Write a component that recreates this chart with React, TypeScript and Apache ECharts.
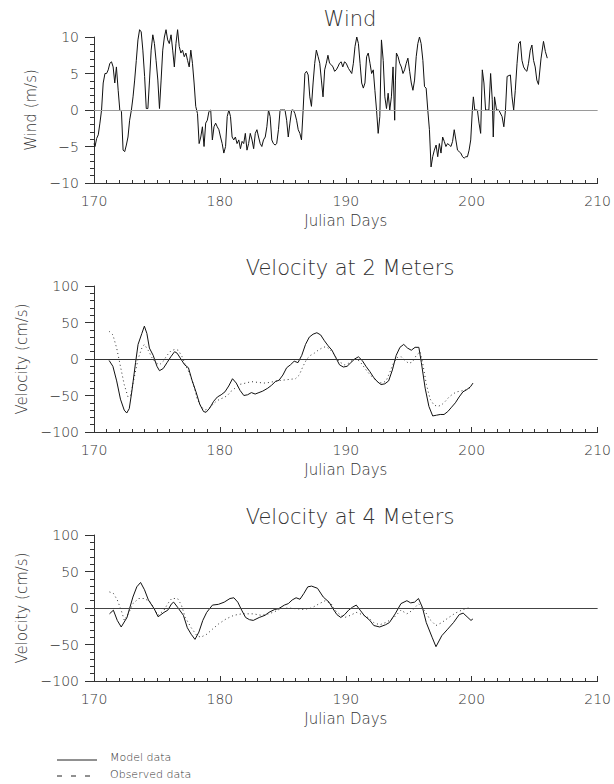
import React, { useEffect, useRef } from "react";
import * as echarts from "echarts";

const xTicks = { min: 170, max: 210, interval: 10 };
const titles = ["Wind", "Velocity at 2 Meters", "Velocity at 4 Meters"];
const yNames = ["Wind (m/s)", "Velocity (cm/s)", "Velocity (cm/s)"];
const yRanges = [
  { min: -10, max: 10, interval: 5 },
  { min: -100, max: 100, interval: 50 },
  { min: -100, max: 100, interval: 50 },
];
const legendLabels = ["Model data", "Observed data"];

const windSpeed: [number, number][] = [
  [170.0, -4.6], [170.08, -5.0], [170.21, -3.9], [170.34, -3.4], [170.47, -1.8], [170.6, 0], [170.73, 3.7], [170.87, 5.0], [171.0, 5.0], [171.13, 5.5], [171.26, 6.4], [171.39, 6.6], [171.52, 5.9], [171.65, 3.7], [171.78, 5.9], [171.92, 2.7], [172.05, 0], [172.18, -0.2], [172.31, -5.5], [172.44, -5.7], [172.57, -4.8], [172.7, -3.7], [172.83, -1.4], [172.97, 0], [173.1, 1.8], [173.23, 4.1], [173.36, 6.8], [173.49, 9.6], [173.62, 11.0], [173.75, 10.7], [173.88, 8.2], [174.02, 4.6], [174.15, 0.2], [174.28, 0.2], [174.41, 4.1], [174.54, 8.2], [174.67, 10.3], [174.8, 9.1], [174.93, 6.8], [175.07, 4.1], [175.2, 0.2], [175.33, 4.1], [175.46, 8.2], [175.59, 10.0], [175.72, 11.0], [175.85, 9.6], [175.98, 9.1], [176.12, 10.3], [176.25, 8.2], [176.38, 5.9], [176.51, 9.1], [176.64, 11.0], [176.77, 8.7], [176.9, 7.8], [177.03, 8.2], [177.17, 7.3], [177.3, 7.8], [177.43, 6.8], [177.56, 5.9], [177.69, 8.2], [177.82, 6.4], [177.95, 3.7], [178.08, 0.5], [178.22, -0.5], [178.35, -4.6], [178.48, -3.7], [178.61, -2.3], [178.74, -5.0], [178.87, -1.8], [179.0, -1.4], [179.13, -0.2], [179.27, 0], [179.4, -4.1], [179.53, -2.3], [179.66, -1.8], [179.79, -2.3], [179.92, -2.7], [180.05, -3.7], [180.18, -4.6], [180.31, -5.9], [180.45, -5.0], [180.58, -0.9], [180.71, 0], [180.84, -0.9], [180.97, -3.7], [181.1, -4.1], [181.23, -3.7], [181.36, -4.6], [181.5, -4.1], [181.63, -5.3], [181.76, -4.3], [181.89, -4.6], [182.02, -3.2], [182.15, -5.5], [182.28, -4.6], [182.41, -3.2], [182.55, -4.1], [182.68, -5.3], [182.81, -3.2], [182.94, -2.7], [183.07, -3.7], [183.2, -4.6], [183.33, -5.0], [183.46, -4.1], [183.6, -3.7], [183.73, -2.3], [183.86, 0], [183.99, -0.9], [184.12, -4.1], [184.25, -4.6], [184.38, -4.8], [184.51, -4.6], [184.65, -2.7], [184.78, 0], [184.91, 0], [185.04, 0], [185.17, 0], [185.3, -1.4], [185.43, -3.7], [185.56, -1.8], [185.7, 0], [185.83, 0], [185.96, -0.5], [186.09, -1.4], [186.22, -2.7], [186.35, -3.2], [186.48, -4.1], [186.61, 0], [186.75, 5.0], [186.88, 5.3], [187.01, 4.8], [187.14, 1.8], [187.27, 0.5], [187.4, 3.7], [187.53, 6.4], [187.66, 8.2], [187.8, 7.3], [187.93, 6.4], [188.06, 4.1], [188.19, 1.8], [188.32, 5.5], [188.45, 6.4], [188.58, 7.5], [188.71, 6.4], [188.85, 6.2], [188.98, 5.9], [189.11, 5.3], [189.24, 5.5], [189.37, 5.9], [189.5, 6.4], [189.63, 6.6], [189.76, 5.9], [189.9, 6.6], [190.03, 6.4],
  [190.21, 5.7], [190.47, 5.0], [190.6, 6.4], [190.73, 8.7], [190.87, 10.0], [191.0, 9.1], [191.13, 6.4], [191.26, 3.7], [191.39, 3.0], [191.52, 3.7], [191.65, 7.3], [191.78, 7.8], [191.92, 6.4], [192.05, 5.0], [192.18, 5.5], [192.31, 2.7], [192.44, 0], [192.57, -3.2], [192.7, -0.9], [192.83, 9.6], [192.97, 6.8], [193.1, 1.8], [193.23, 0.2], [193.36, 2.3], [193.49, 0], [193.62, 1.8], [193.75, 5.9], [193.88, -1.4], [193.94, 4.1], [194.02, 7.8], [194.15, 7.3], [194.28, 6.4], [194.41, 5.9], [194.54, 5.0], [194.67, 5.5], [194.8, 6.4], [194.93, 7.1], [195.07, 5.3], [195.2, 3.7], [195.33, 2.7], [195.46, 4.1], [195.59, 7.3], [195.72, 9.1], [195.85, 10.0], [195.98, 9.1], [196.12, 6.8], [196.25, 3.2], [196.38, 3.0], [196.51, 0], [196.64, -2.7], [196.77, -7.8], [196.9, -6.4], [197.03, -5.5], [197.17, -4.8], [197.3, -6.4], [197.43, -4.6], [197.56, -5.9], [197.69, -3.7], [197.82, -4.3], [197.95, -5.0], [198.08, -4.6], [198.22, -4.8], [198.35, -5.0], [198.48, -4.3], [198.61, -2.7], [198.74, -4.1], [198.87, -5.5], [199.0, -5.7], [199.13, -5.9], [199.27, -6.4], [199.4, -6.6], [199.53, -6.4], [199.66, -6.4], [199.79, -5.5], [199.92, -4.1], [200.05, 0], [200.13, 1.8], [200.24, 0], [200.45, 0], [200.58, -1.8], [200.71, -3.2], [200.84, 5.5], [200.97, 3.7], [201.1, 0], [201.23, 0], [201.36, 0], [201.5, 5.0], [201.63, 1.4], [201.71, -3.7], [201.81, 1.8], [201.97, 0], [202.15, 0], [202.41, -0.9], [202.55, -2.3], [202.68, 0], [202.81, 4.6], [203.07, 4.8], [203.2, 1.8], [203.33, 0], [203.46, 2.7], [203.6, 6.4], [203.73, 9.1], [203.86, 9.4], [203.99, 6.8], [204.12, 5.9], [204.25, 5.5], [204.38, 5.3], [204.51, 6.4], [204.65, 8.2], [204.78, 8.9], [204.91, 6.8], [205.04, 5.9], [205.17, 4.1], [205.3, 3.5], [205.5, 7.0], [205.7, 9.4], [205.85, 8.0], [206.0, 7.1],
];

const model2m: [number, number][] = [
  [171.2, -2], [171.5, -10], [171.8, -30], [172.1, -55], [172.4, -70], [172.6, -74], [172.8, -68], [173.0, -45], [173.3, -5], [173.5, 20], [173.8, 35], [174.0, 45], [174.2, 35], [174.4, 15], [174.7, 5], [175.0, -10], [175.2, -16], [175.5, -13], [175.8, -5], [176.1, 3], [176.4, 10], [176.6, 8], [176.9, 0], [177.2, -8], [177.5, -12], [177.8, -30], [178.1, -45], [178.4, -62], [178.7, -72], [178.9, -73], [179.2, -67], [179.5, -58], [179.8, -52], [180.1, -49], [180.4, -45], [180.7, -37], [181.0, -27], [181.3, -33], [181.6, -43], [181.9, -50], [182.2, -49], [182.5, -46], [182.8, -48], [183.1, -46], [183.4, -44], [183.8, -40], [184.1, -36], [184.4, -31], [184.7, -29], [185.0, -22], [185.3, -12], [185.6, -8], [185.9, -3], [186.2, -5], [186.5, 5], [186.8, 20], [187.1, 30], [187.4, 34], [187.7, 36], [188.0, 33], [188.3, 25], [188.6, 18], [188.9, 12], [189.2, 2], [189.5, -8], [189.8, -11], [190.1, -10], [190.4, -5], [190.7, 0], [191.0, 3], [191.3, -2], [191.6, -10], [191.9, -17], [192.2, -25], [192.5, -31], [192.8, -35], [193.1, -34], [193.4, -30], [193.7, -15], [194.0, 5], [194.3, 16], [194.6, 20], [194.9, 15], [195.2, 12], [195.5, 16], [195.8, 16], [196.0, -5], [196.3, -40], [196.6, -65], [196.9, -78], [197.2, -77], [197.5, -76], [197.8, -76], [198.1, -72], [198.4, -66], [198.7, -60], [199.0, -52], [199.3, -45], [199.6, -42], [199.9, -38], [200.1, -33],
];

const observed2m: [number, number][] = [
  [171.2, 38], [171.5, 33], [171.8, 15], [172.1, -10], [172.4, -35], [172.7, -52], [172.9, -50], [173.2, -25], [173.5, 0], [173.8, 15], [174.0, 20], [174.3, 12], [174.6, 2], [174.9, -5], [175.2, -8], [175.5, -3], [175.8, 5], [176.1, 11], [176.4, 13], [176.7, 12], [177.0, 3], [177.3, -10], [177.6, -20], [177.9, -35], [178.2, -55], [178.5, -65], [178.8, -70], [179.1, -68], [179.4, -63], [179.7, -58], [180.0, -55], [180.3, -53], [180.6, -50], [180.9, -44], [181.2, -40], [181.5, -35], [181.8, -34], [182.5, -31], [183.0, -32], [183.5, -33], [184.0, -32], [184.5, -30], [185.0, -29], [185.5, -28], [186.0, -27], [186.3, -22], [186.6, -10], [186.9, 0], [187.2, 5], [187.5, 8], [187.8, 12], [188.1, 15], [188.4, 17], [188.7, 14], [189.0, 8], [189.3, 0], [189.6, -5], [189.9, -8], [190.2, -6], [190.5, -2], [190.8, 0], [191.1, -3], [191.4, -10], [191.7, -17], [192.0, -23], [192.3, -28], [192.6, -32], [192.9, -33], [193.2, -30], [193.5, -18], [193.8, -5], [194.1, 2], [194.4, 3], [194.7, -2], [195.0, -6], [195.3, -4], [195.6, 5], [195.9, 10], [196.1, -5], [196.4, -35], [196.7, -55], [197.0, -63], [197.3, -65], [197.6, -63], [197.9, -58], [198.2, -52], [198.5, -48], [198.8, -45], [199.1, -44], [199.4, -43], [199.7, -41], [200.0, -38],
];

const model4m: [number, number][] = [
  [171.23, -8], [171.54, -3], [171.85, -17], [172.16, -26], [172.62, -13], [173.09, 15], [173.4, 29], [173.7, 35], [174.01, 25], [174.32, 11], [174.78, -1], [175.09, -12], [175.56, -6], [175.86, -3], [176.17, 6], [176.33, 8], [176.64, 1], [177.1, -10], [177.41, -27], [177.72, -36], [178.02, -43], [178.33, -33], [178.64, -17], [178.95, -6], [179.41, 4], [179.88, 5], [180.34, 8], [180.8, 13], [181.11, 14], [181.42, 8], [181.73, -3], [182.04, -13], [182.35, -16], [182.65, -17], [183.12, -13], [183.58, -10], [183.89, -6], [184.35, -2], [184.66, -1], [185.12, 4], [185.43, 6], [185.74, 11], [186.05, 14], [186.36, 12], [186.67, 20], [186.98, 29], [187.28, 30], [187.75, 27], [188.21, 15], [188.67, 8], [188.98, -1], [189.29, -9], [189.6, -13], [189.91, -9], [190.22, -3], [190.52, 1], [190.83, 4], [191.14, -3], [191.45, -10], [191.91, -17], [192.22, -24], [192.69, -26], [193.15, -23], [193.46, -20], [193.92, -8], [194.38, 6], [194.85, 10], [195.15, 7], [195.46, 8], [195.77, 13], [196.08, 1], [196.39, -20], [196.85, -40], [197.16, -53], [197.62, -38], [198.09, -29], [198.55, -20], [199.01, -9], [199.32, -7], [199.63, -12], [199.94, -17], [200.09, -15],
];

const observed4m: [number, number][] = [
  [171.23, 22], [171.54, 20], [171.85, 11], [172.16, -3], [172.41, -17], [172.78, -6], [173.09, 6], [173.55, 13], [174.01, 13], [174.48, 8], [174.78, -1], [175.09, -10], [175.56, -3], [175.86, 6], [176.17, 13], [176.64, 13], [176.94, 4], [177.25, -13], [177.72, -27], [178.18, -38], [178.49, -40], [178.95, -36], [179.41, -29], [179.88, -22], [180.49, -15], [181.11, -10], [181.73, -8], [182.65, -8], [183.27, -10], [183.89, -8], [184.35, -5], [184.81, -1], [185.43, 0], [186.05, -1], [186.67, -2], [187.28, 0], [187.9, 6], [188.36, 10], [188.83, 6], [189.14, -3], [189.6, -10], [189.91, -13], [190.37, -10], [190.83, -6], [191.3, -9], [191.76, -13], [192.22, -20], [192.69, -23], [193.15, -20], [193.77, -14], [194.38, -3], [194.85, -8], [195.31, -3], [195.77, 6], [196.23, -3], [196.7, -16], [197.16, -24], [197.62, -20], [198.09, -14], [198.7, -7], [199.32, -2], [199.94, 1],
];

const FONT = "DejaVu Sans";
const GRID_TOPS = [37, 286, 535];
const GRID_LEFT = 94;
const GRID_W = 507;
const GRID_H = 146;

export default function App() {
  const ref = useRef<HTMLDivElement>(null);
  useEffect(() => {
    if (!ref.current) return;
    const chart = echarts.init(ref.current, null, { renderer: "svg" });
    const axisColor = "#333";
    const textColor = "#333";
    const zeroColors = ["#9a9a9a", "#333", "#444"];
    const thinText = { fontFamily: FONT, fontWeight: 200, color: textColor };
    const option: any = {
      animation: false,
      backgroundColor: "#fff",
      grid: GRID_TOPS.map((t) => ({ left: GRID_LEFT, top: t, width: GRID_W, height: GRID_H })),
      xAxis: GRID_TOPS.map((_, i) => ({
        gridIndex: i,
        type: "value",
        min: xTicks.min,
        max: xTicks.max,
        interval: xTicks.interval,
        name: "Julian Days",
        nameLocation: "middle",
        nameGap: 30,
        nameTextStyle: { ...thinText, fontSize: 15 },
        axisLine: { onZero: false, lineStyle: { color: axisColor, width: 1 } },
        axisTick: { inside: true, length: 5, lineStyle: { color: axisColor } },
        minorTick: { show: true, splitNumber: 10, length: 3, lineStyle: { color: axisColor } },
        axisLabel: { ...thinText, margin: 11, fontSize: 14 },
        splitLine: { show: false },
      })),
      yAxis: GRID_TOPS.map((_, i) => ({
        gridIndex: i,
        type: "value",
        min: yRanges[i].min,
        max: yRanges[i].max,
        interval: yRanges[i].interval,
        name: yNames[i],
        nameLocation: "middle",
        nameGap: i === 0 ? 55 : 60,
        nameTextStyle: { ...thinText, fontSize: 15 },
        axisLine: { show: true, onZero: false, lineStyle: { color: axisColor, width: 1 } },
        axisTick: { show: true, inside: false, length: 9, lineStyle: { color: axisColor } },
        minorTick: { show: true, splitNumber: 5, length: 4, lineStyle: { color: axisColor } },
        axisLabel: {
          ...thinText,
          margin: 15,
          fontSize: 14,
          formatter: (v: number) => (v < 0 ? "\u2212" + Math.abs(v) : String(v)),
        },
        splitLine: { show: false },
      })),
      series: [
        { data: windSpeed, idx: 0, dotted: false },
        { data: model2m, idx: 1, dotted: false },
        { data: observed2m, idx: 1, dotted: true },
        { data: model4m, idx: 2, dotted: false },
        { data: observed4m, idx: 2, dotted: true },
      ].map((s, k) => ({
        type: "line",
        xAxisIndex: s.idx,
        yAxisIndex: s.idx,
        data: s.data,
        showSymbol: false,
        symbol: "none",
        silent: true,
        clip: false,
        lineStyle: s.dotted
          ? { color: "#333", width: 1, type: [1, 3] }
          : { color: "#111", width: 1 },
        z: s.dotted ? 3 : 4,
        markLine:
          k === 0 || k === 1 || k === 3
            ? {
                silent: true,
                symbol: "none",
                label: { show: false },
                lineStyle: { color: zeroColors[s.idx], width: 1, type: "solid" },
                data: [{ yAxis: 0 }],
              }
            : undefined,
      })),
      graphic: [
        ...titles.map((t, i) => ({
          type: "text",
          x: 350,
          y: GRID_TOPS[i] - 18,
          style: {
            text: t,
            fontFamily: FONT,
            fontSize: 21,
            fontWeight: 200,
            fill: "#333",
            align: "center",
            verticalAlign: "middle",
          },
        })),
        { type: "line", shape: { x1: 57, y1: 760, x2: 97, y2: 760 }, style: { stroke: "#222", lineWidth: 1 } },
        { type: "line", shape: { x1: 57, y1: 776, x2: 97, y2: 776 }, style: { stroke: "#222", lineWidth: 1, lineDash: [5, 9] } },
        {
          type: "text",
          x: 110,
          y: 757,
          style: { text: legendLabels[0], fontFamily: FONT, fontWeight: 200, fontSize: 11, fill: "#333", verticalAlign: "middle" },
        },
        {
          type: "text",
          x: 110,
          y: 774,
          style: { text: legendLabels[1], fontFamily: FONT, fontWeight: 200, fontSize: 11, fill: "#333", verticalAlign: "middle" },
        },
      ],
    };
    chart.setOption(option);
    return () => chart.dispose();
  }, []);
  return (
    <div
      ref={ref}
      style={{ position: "fixed", left: 0, top: 0, width: 614, height: 784, background: "#fff" }}
    />
  );
}
